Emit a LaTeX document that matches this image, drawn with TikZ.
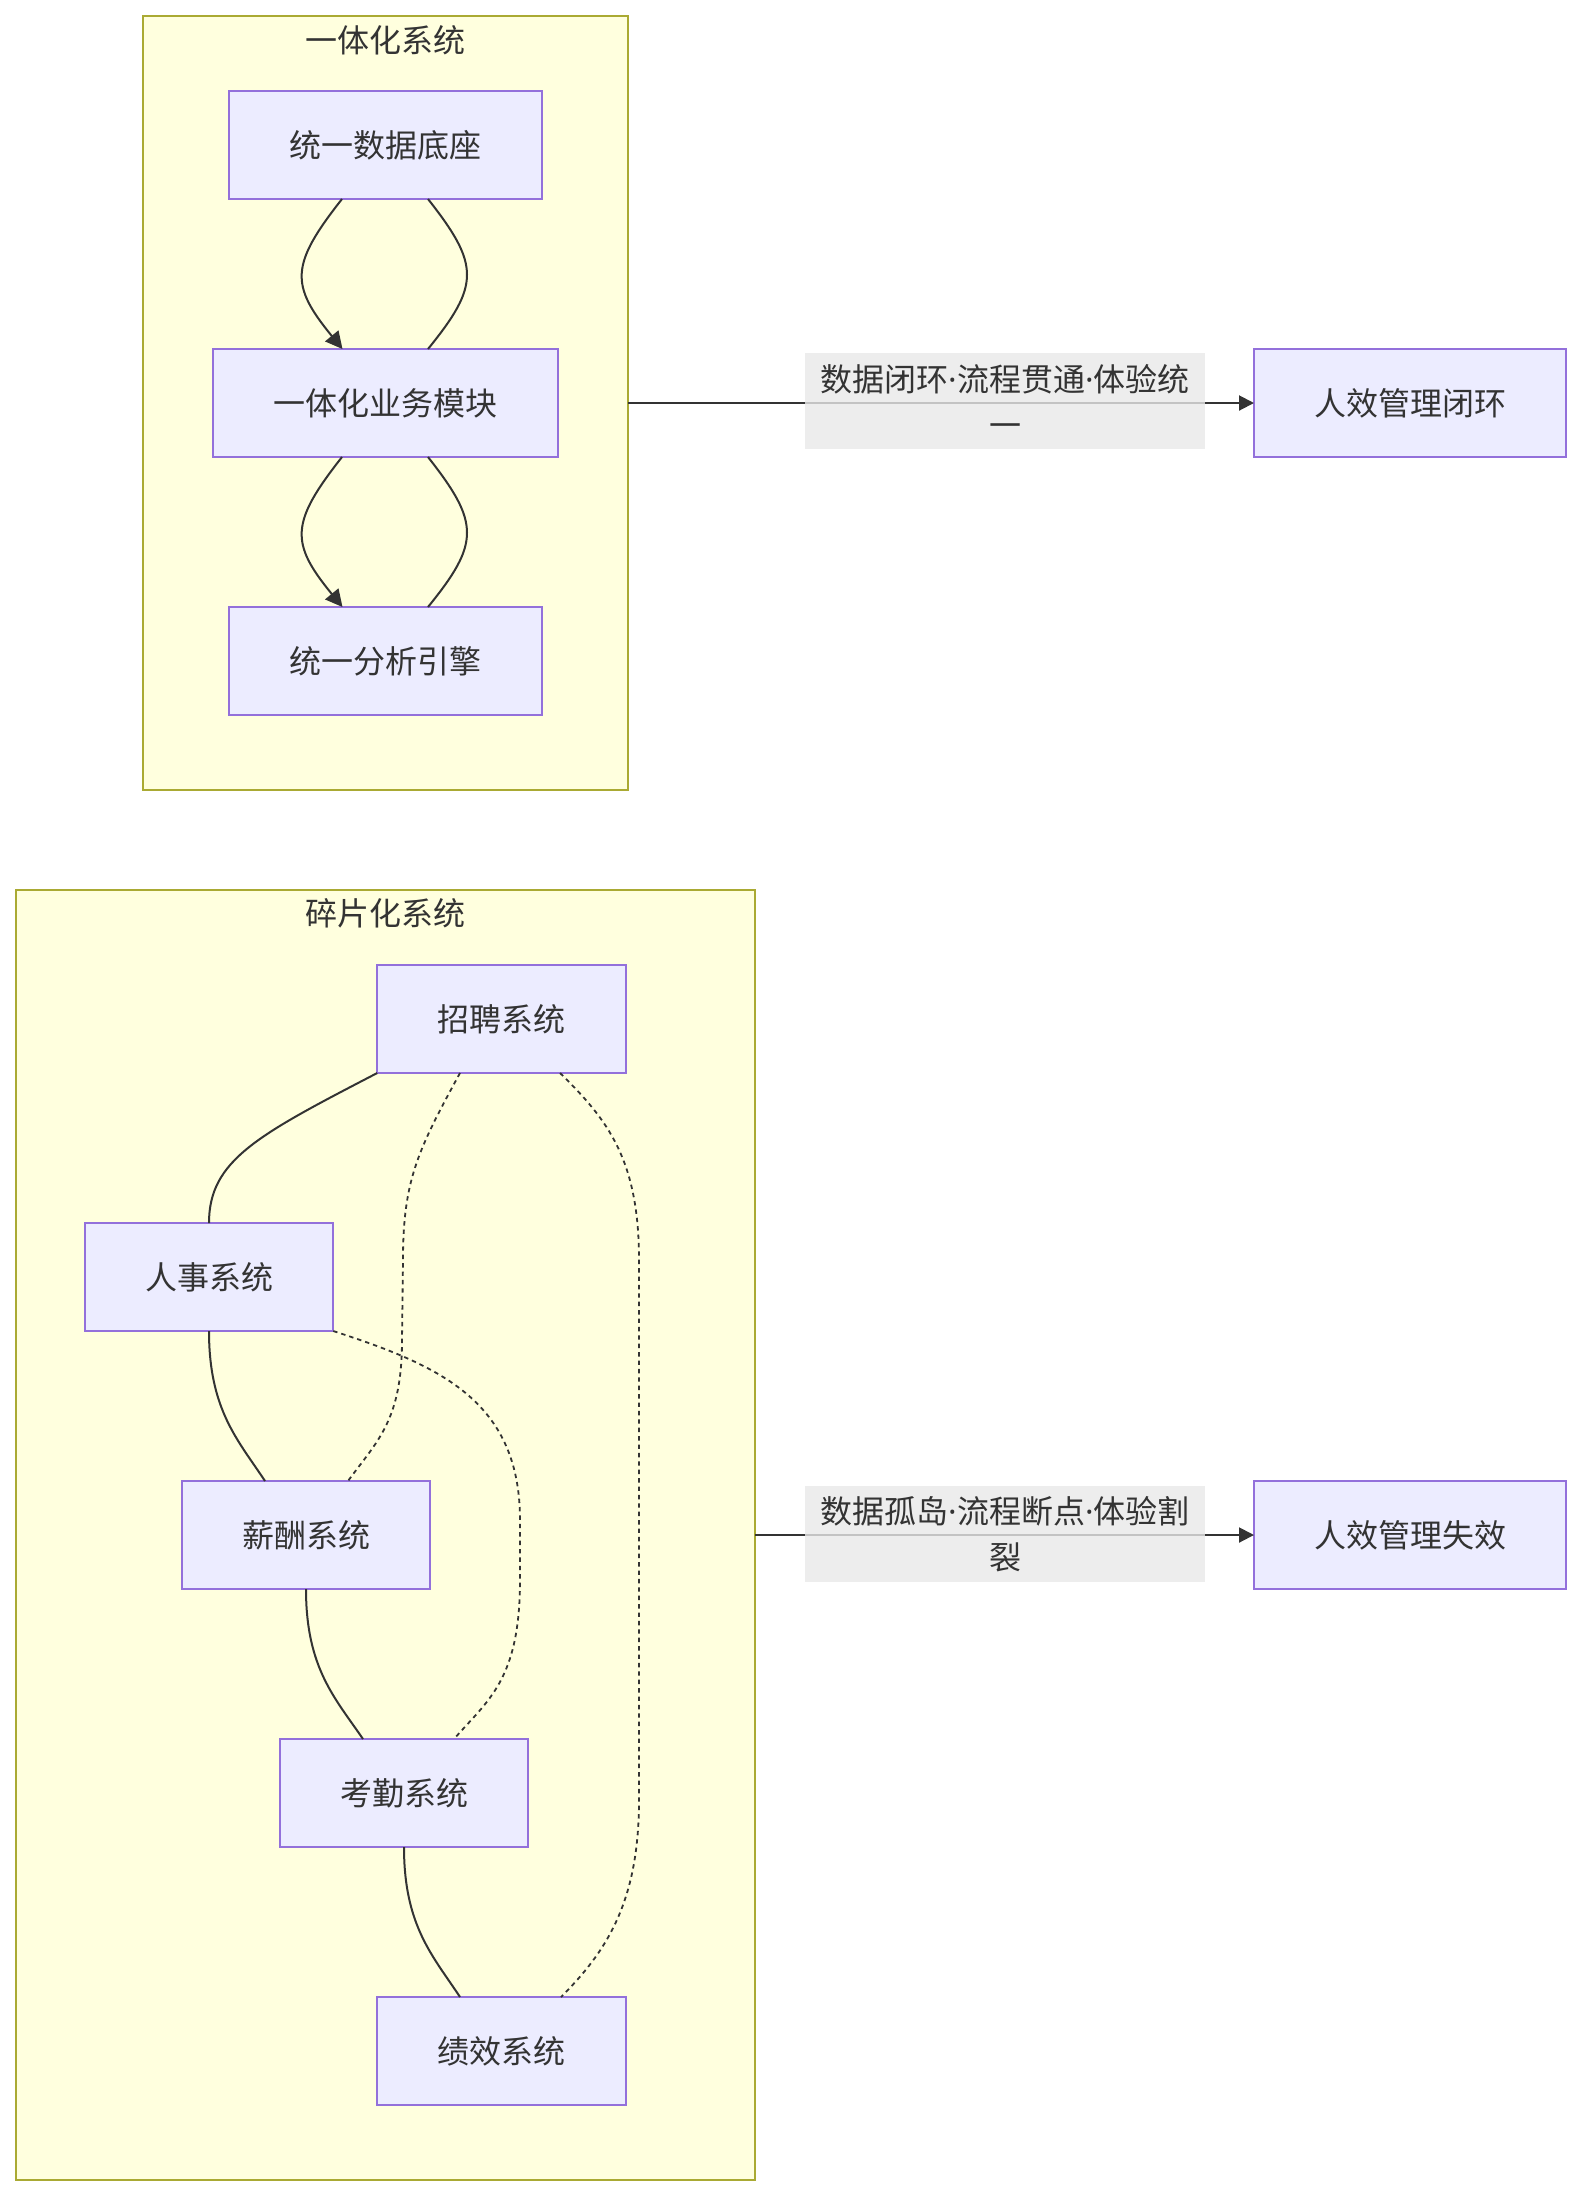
\documentclass[tikz,border=0pt]{standalone}
\usepackage{fontspec}
\newfontfamily\cjk{Noto Sans CJK SC}
\newfontfamily\lat{Noto Sans}
\newcommand\mdot{{\lat ·}}
\usetikzlibrary{arrows.meta}
\definecolor{clfill}{HTML}{FFFFDE}
\definecolor{cldraw}{HTML}{AAAA33}
\definecolor{ndfill}{HTML}{ECECFF}
\definecolor{nddraw}{HTML}{9370DB}
\definecolor{edgec}{HTML}{333333}
\definecolor{lblfill}{HTML}{E8E8E8}
\begin{document}
\begin{tikzpicture}[x=0.5pt,y=-0.5pt,
  txt/.style={text=edgec,font=\cjk\fontsize{16}{21.5}\selectfont},
  cluster/.style={draw=cldraw,fill=clfill,line width=1pt,inner sep=0pt,outer sep=0pt},
  box/.style={txt,draw=nddraw,fill=ndfill,line width=1pt,minimum height=54pt,inner sep=0pt,outer sep=0pt},
  ttl/.style={txt,inner sep=0pt},
  lbl/.style={text=edgec,font=\cjk\fontsize{16}{23}\selectfont,fill=lblfill,fill opacity=0.8,text opacity=1,minimum width=200pt,minimum height=48pt,align=center,inner sep=0pt},
  link/.style={draw=edgec,line width=1pt},
  dotlink/.style={draw=edgec,line width=0.9pt,dash pattern=on 2.2pt off 2pt},
  arr/.style={-{Triangle[length=8.5pt,width=8.5pt]}}
]
\useasboundingbox (0,0) rectangle (1583,2196);

% clusters
\node[cluster,minimum width=242.5pt,minimum height=387pt] (c1) at (385.5,403) {};
\node[ttl] (t1) at (385.5,40) {一体化系统};
\begin{scope}[xshift=-1pt]
\node[cluster,minimum width=369.5pt,minimum height=645pt] (c2) at (387.25,1535) {};
\node[ttl] (t2) at (387.5,913) {碎片化系统};
\end{scope}

% top cluster nodes
\node[box,minimum width=156.5pt] (data) at (385.5,145) {统一数据底座};
\node[box,minimum width=172.5pt] (mod) at (385.5,403) {一体化业务模块};
\node[box,minimum width=156.5pt] (eng) at (385.5,661) {统一分析引擎};

\begin{scope}[xshift=-1pt]
% bottom cluster nodes
\node[box,minimum width=124.25pt] (zp) at (503.5,1019) {招聘系统};
\node[box,minimum width=124.25pt] (rs) at (211,1277) {人事系统};
\node[box,minimum width=124.25pt] (xc) at (308,1535) {薪酬系统};
\node[box,minimum width=124.25pt] (kq) at (406,1793) {考勤系统};
\node[box,minimum width=124.25pt] (jx) at (503.5,2051) {绩效系统};

% bottom cluster solid edges
\draw[link] (zp.south west) .. controls (260,1135) and (211,1160) .. (rs.north);
\draw[link] (rs.south) .. controls (211,1410) and (240,1440) .. ([xshift=-20.5pt]xc.north);
\draw[link] (xc.south) .. controls (308,1668) and (337,1698) .. ([xshift=-20.5pt]kq.north);
\draw[link] (kq.south) .. controls (406,1926) and (435,1956) .. ([xshift=-20.75pt]jx.north);

% bottom cluster dotted edges
\draw[dotlink] ([xshift=-20.75pt]zp.south) .. controls (420,1150) and (405,1180) .. (405,1260) -- (404,1340) .. controls (404,1420) and (380,1440) .. ([xshift=21pt]xc.north);
\draw[dotlink] (rs.south east) .. controls (440,1365) and (522,1400) .. (522,1520) -- (522,1580) .. controls (522,1680) and (490,1700) .. ([xshift=25pt]kq.north);
\draw[dotlink] ([xshift=29.25pt]zp.south) .. controls (610,1120) and (641,1160) .. (641,1260) -- (641,1800) .. controls (641,1900) and (610,1950) .. ([xshift=29.75pt]jx.north);
\end{scope}

% right nodes
\node[box,minimum width=156pt] (r1) at (1410,403) {人效管理闭环};
\node[box,minimum width=156pt] (r2) at (1410,1535) {人效管理失效};

% top cluster edges
\draw[link,arr] ([xshift=-21.75pt]data.south) .. controls (290,265) and (290,285) .. ([xshift=-21.5pt]mod.north);
\draw[link] ([xshift=21.25pt]mod.north) .. controls (480,285) and (480,265) .. ([xshift=21.25pt]data.south);
\draw[link,arr] ([xshift=-21.75pt]mod.south) .. controls (290,523) and (290,543) .. ([xshift=-21.5pt]eng.north);
\draw[link] ([xshift=21.25pt]eng.north) .. controls (480,543) and (480,523) .. ([xshift=21.25pt]mod.south);

% cluster to result edges
\draw[link,-{Triangle[length=7.5pt,width=7.5pt]}] (c1.east) -- (r1.west);
\draw[link,-{Triangle[length=7.5pt,width=7.5pt]}] (c2.east) -- (r2.west);

% edge labels
\node[lbl] (l1) at (1005,401) {数据闭环\mdot 流程贯通\mdot 体验统\\一};
\node[lbl] (l2) at (1005,1534) {数据孤岛\mdot 流程断点\mdot 体验割\\裂};
\end{tikzpicture}
\end{document}
